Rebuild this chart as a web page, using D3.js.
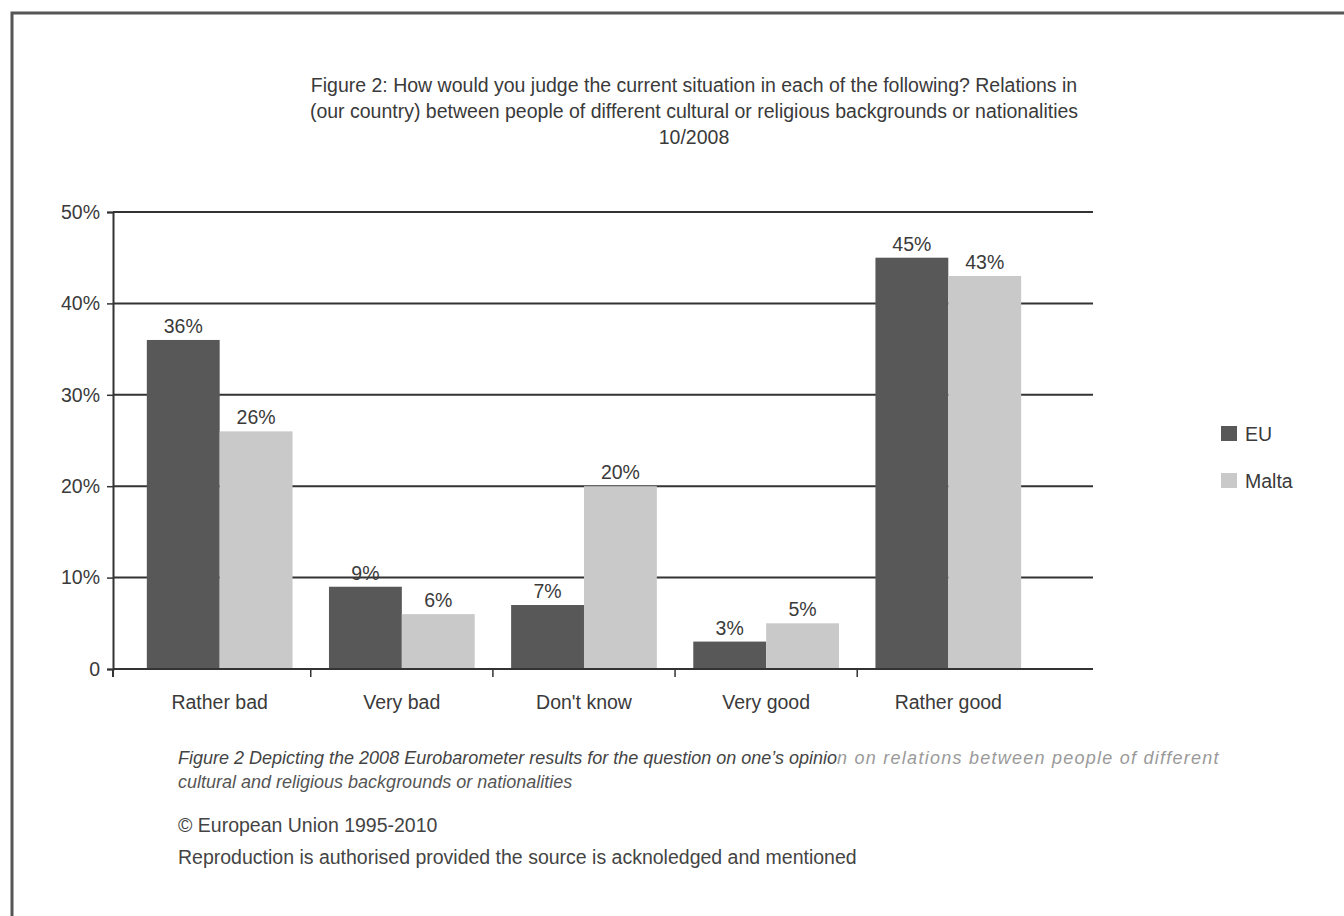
<!DOCTYPE html>
<html>
<head>
<meta charset="utf-8">
<script src="https://cdn.jsdelivr.net/npm/d3@7"></script>
<style>
  html, body { margin: 0; padding: 0; background: #fff; }
  svg { display: block; }
  text { font-family: "Liberation Sans", Arial, Helvetica, sans-serif; }
</style>
</head>
<body>
<svg id="chart" width="1344" height="916"></svg>
<script>
// Survey answers and shares (percent)
const categories = ["Rather bad", "Very bad", "Don't know", "Very good", "Rather good"];
const seriesNames = ["EU", "Malta"];
const euValues = [36, 9, 7, 3, 45];
const maltaValues = [26, 6, 20, 5, 43];
const yTicks = [0, 10, 20, 30, 40, 50];
const yTickLabels = ["0", "10%", "20%", "30%", "40%", "50%"];

const titleLines = [
  "Figure 2: How would you judge the current situation in each of the following? Relations in",
  "(our country) between people of different cultural or religious backgrounds or nationalities",
  "10/2008"
];

const colors = { EU: "#585858", Malta: "#c9c9c9" };
const ink = "#3a3a3a";
const fs = 19.5;

const svg = d3.select("#chart");

// page frame (left and top rules)
svg.append("path")
  .attr("d", "M12,916 L12,13 L1344,13")
  .attr("fill", "none")
  .attr("stroke", "#555")
  .attr("stroke-width", 3);

// title
svg.append("g").selectAll("text")
  .data(titleLines)
  .join("text")
  .attr("x", 694)
  .attr("y", (d, i) => 92 + i * 26)
  .attr("text-anchor", "middle")
  .attr("font-size", fs)
  .attr("fill", ink)
  .text(d => d);

// scales
const plotLeft = 113, plotRight = 1093, plotTop = 212, plotBottom = 669;
const y = d3.scaleLinear().domain([0, 50]).range([plotBottom, plotTop]);
const x0 = d3.scaleBand()
  .domain(categories)
  .range([plotLeft, plotRight])
  .paddingInner(0.2)
  .paddingOuter(0.29)
  .align(0.32);
const x1 = d3.scaleBand().domain(seriesNames).range([0, x0.bandwidth()]);

const rows = categories.map((c, i) => ({ category: c, EU: euValues[i], Malta: maltaValues[i] }));

// horizontal gridlines
svg.append("g").selectAll("line")
  .data(yTicks.filter(t => t > 0))
  .join("line")
  .attr("x1", plotLeft).attr("x2", plotRight)
  .attr("y1", d => y(d)).attr("y2", d => y(d))
  .attr("stroke", "#333")
  .attr("stroke-width", 2);

// y axis
const yAxis = svg.append("g")
  .attr("transform", `translate(${plotLeft},0)`)
  .call(d3.axisLeft(y).tickValues(yTicks).tickFormat((d, i) => yTickLabels[i]).tickSize(6).tickPadding(7));
yAxis.select(".domain").attr("stroke", "#333").attr("stroke-width", 2);
yAxis.selectAll(".tick line").attr("stroke", "#333").attr("stroke-width", 1.5);
yAxis.selectAll(".tick text")
  .attr("font-size", fs)
  .attr("fill", ink)
  .attr("font-family", "Liberation Sans, Arial, sans-serif");

// bars
const groups = svg.append("g").selectAll("g")
  .data(rows)
  .join("g")
  .attr("transform", d => `translate(${x0(d.category)},0)`);

groups.selectAll("rect")
  .data(d => seriesNames.map(k => ({ key: k, value: d[k] })))
  .join("rect")
  .attr("x", d => x1(d.key))
  .attr("y", d => y(d.value))
  .attr("width", x1.bandwidth())
  .attr("height", d => y(0) - y(d.value))
  .attr("fill", d => colors[d.key]);

groups.selectAll("text")
  .data(d => seriesNames.map(k => ({ key: k, value: d[k] })))
  .join("text")
  .attr("x", d => x1(d.key) + x1.bandwidth() / 2)
  .attr("y", d => y(d.value) - 7)
  .attr("text-anchor", "middle")
  .attr("font-size", fs)
  .attr("fill", ink)
  .text(d => d.value + "%");

// x axis baseline with tick marks between categories
const step = x0.step();
const xAxisG = svg.append("g");
xAxisG.append("line")
  .attr("x1", plotLeft).attr("x2", plotRight)
  .attr("y1", plotBottom).attr("y2", plotBottom)
  .attr("stroke", "#333").attr("stroke-width", 2);
xAxisG.selectAll("line.tick")
  .data(categories.slice(1))
  .join("line")
  .attr("class", "tick")
  .attr("x1", d => x0(d) - step * 0.1)
  .attr("x2", d => x0(d) - step * 0.1)
  .attr("y1", plotBottom).attr("y2", plotBottom + 8)
  .attr("stroke", "#333").attr("stroke-width", 1.5);
xAxisG.append("line")
  .attr("x1", plotLeft).attr("x2", plotLeft)
  .attr("y1", plotBottom).attr("y2", plotBottom + 8)
  .attr("stroke", "#333").attr("stroke-width", 2);
xAxisG.selectAll("text")
  .data(categories)
  .join("text")
  .attr("x", d => x0(d) + x0.bandwidth() / 2)
  .attr("y", 709)
  .attr("text-anchor", "middle")
  .attr("font-size", fs)
  .attr("fill", ink)
  .text(d => d);

// legend
const legend = svg.append("g").attr("transform", "translate(1221,426)");
const li = legend.selectAll("g")
  .data(seriesNames)
  .join("g")
  .attr("transform", (d, i) => `translate(0,${i * 47})`);
li.append("rect")
  .attr("width", 16).attr("height", 15)
  .attr("fill", d => colors[d]);
li.append("text")
  .attr("x", 24).attr("y", 15)
  .attr("font-size", fs)
  .attr("fill", ink)
  .text(d => d);

// caption and source notes
const caption = svg.append("g").attr("font-style", "italic").attr("font-size", 18);
const c1 = caption.append("text").attr("x", 178).attr("y", 764).attr("fill", "#444");
c1.append("tspan").text("Figure 2 Depicting the 2008 Eurobarometer results for the question on one\u2019s opinio");
c1.append("tspan").attr("fill", "#9a9a9a").attr("letter-spacing", 1.25)
  .text("n on relations between people of different");
caption.append("text").attr("x", 178).attr("y", 788).attr("fill", "#555")
  .text("cultural and religious backgrounds or nationalities");

svg.append("text").attr("x", 178).attr("y", 832).attr("font-size", fs).attr("fill", "#444")
  .text("\u00a9 European Union 1995-2010");
svg.append("text").attr("x", 178).attr("y", 864).attr("font-size", fs).attr("fill", "#444")
  .text("Reproduction is authorised provided the source is acknoledged and mentioned");
</script>
</body>
</html>
